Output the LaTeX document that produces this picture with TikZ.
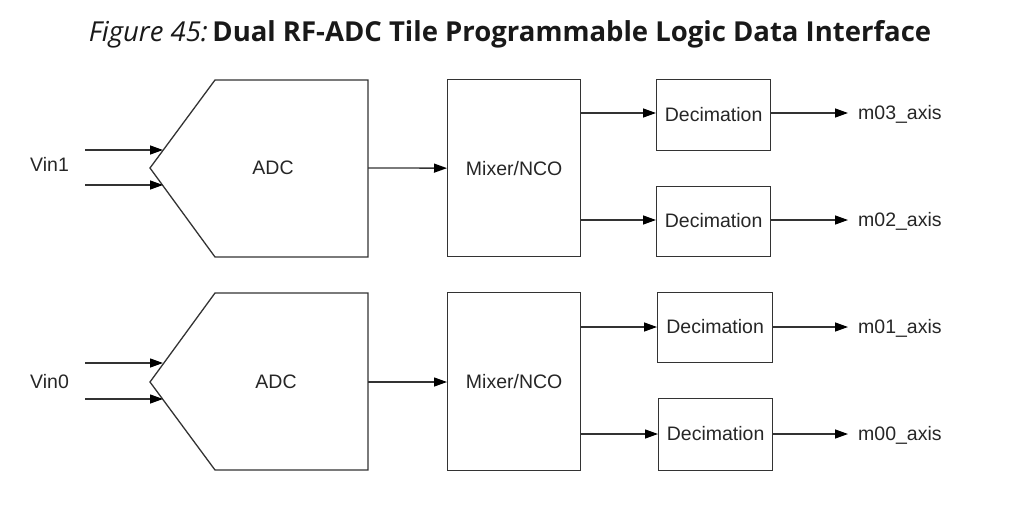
\documentclass[tikz,border=0pt]{standalone}
\usepackage{fontspec}
\setmainfont{Liberation Sans}
\newfontfamily\titlefont{Open Sans}
\usetikzlibrary{arrows.meta}
\begin{document}
\begin{tikzpicture}[x=1pt,y=-1pt,
  line/.style={draw=black!80,line width=1.3pt},
  conn/.style={line,-{Triangle[length=13pt,width=9pt,black]}},
  box/.style={line,minimum width=#1,inner sep=0pt,anchor=north west,font=\fontsize{19.5}{20}\selectfont,text=black!85},
  lbl/.style={font=\fontsize{19.5}{20}\selectfont,text=black!85,inner sep=0pt}]
\useasboundingbox (0,0) rectangle (1022,506);
\node[font=\titlefont\fontsize{27.5}{30}\selectfont,text=black!90] (title) at (510,34) {\textit{Figure 45:}\,\textbf{Dual RF-ADC Tile Programmable Logic Data Interface}};
% top ADC
\draw[line] (215,80) -- (368,80) -- (368,257) -- (215,257) -- (150,168) -- cycle;
\node[lbl] (adc1) at (273,168) {ADC};
\coordinate (a1out) at (368,168);
\coordinate (a1in1) at (163,150);
\coordinate (a1in2) at (163,185);
\coordinate (v1s1) at (85,150);
\coordinate (v1s2) at (85,185);
\node[lbl,anchor=west] (vin1) at (30,164) {Vin1};
\draw[conn] (v1s1) -- (a1in1);
\draw[conn] (v1s2) -- (a1in2);
% bottom ADC
\draw[line] (215,293) -- (368,293) -- (368,470) -- (215,470) -- (150,382) -- cycle;
\node[lbl] (adc0) at (276,382) {ADC};
\coordinate (a0out) at (368,382);
\coordinate (a0in1) at (163,363);
\coordinate (a0in2) at (163,399);
\coordinate (v0s1) at (85,363);
\coordinate (v0s2) at (85,399);
\node[lbl,anchor=west] (vin0) at (30,382) {Vin0};
\draw[conn] (v0s1) -- (a0in1);
\draw[conn] (v0s2) -- (a0in2);
% mixers
\node[box=133pt,minimum height=177pt] (mix1) at (447,79) {Mixer/NCO};
\node[box=133pt,minimum height=178pt] (mix0) at (447,292) {Mixer/NCO};
\draw[conn] (a1out) -- (mix1.west);
\draw[conn] (a0out) -- (a0out -| mix0.west);
% decimation
\node[box=114pt,minimum height=71pt,text depth=2pt] (d3) at (656,79) {Decimation};
\node[box=114pt,minimum height=70pt,text depth=2pt] (d2) at (656,186) {Decimation};
\node[box=115pt,minimum height=70pt,text depth=2pt] (d1) at (657,292) {Decimation};
\node[box=114pt,minimum height=72pt,text depth=2pt] (d0) at (658,398) {Decimation};
\draw[conn] (mix1.east |- 0,113) -- (d3.west |- 0,113);
\draw[conn] (mix1.east |- 0,220) -- (d2.west |- 0,220);
\draw[conn] (mix0.east |- 0,327) -- (d1.west |- 0,327);
\draw[conn] (mix0.east |- 0,434) -- (d0.west |- 0,434);
% outputs
\node[lbl,anchor=west] (m3) at (858,114) {m03\_axis};
\node[lbl,anchor=west] (m2) at (858,221) {m02\_axis};
\node[lbl,anchor=west] (m1) at (858,328) {m01\_axis};
\node[lbl,anchor=west] (m0) at (858,435) {m00\_axis};
\draw[conn] (d3.east |- 0,113) -- (848,113);
\draw[conn] (d2.east |- 0,220) -- (848,220);
\draw[conn] (d1.east |- 0,327) -- (848,327);
\draw[conn] (d0.east |- 0,434) -- (848,434);
\end{tikzpicture}
\end{document}
